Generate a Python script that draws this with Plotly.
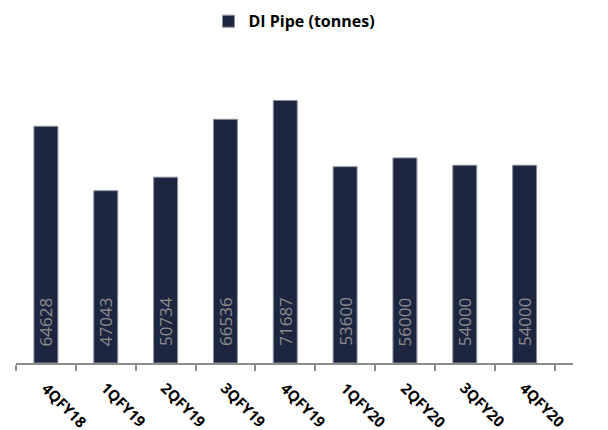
import plotly.graph_objects as go

# Quarterly DI pipe volumes
quarters = ["4QFY18", "1QFY19", "2QFY19", "3QFY19", "4QFY19",
            "1QFY20", "2QFY20", "3QFY20", "4QFY20"]
tonnes = [64628, 47043, 50734, 66536, 71687, 53600, 56000, 54000, 54000]

series_name = "DI Pipe (tonnes)"
bar_color = "#1C2640"
label_color = "#8C8C8C"

fig = go.Figure()
fig.add_trace(go.Bar(
    x=quarters,
    y=tonnes,
    name=series_name,
    width=0.4,
    marker=dict(color=bar_color, line=dict(color="#8A909C", width=1)),
    showlegend=True,
))

# Value labels written vertically near the base of each bar
for q, v in zip(quarters, tonnes):
    fig.add_annotation(
        x=q, y=0, text=str(v), textangle=-90,
        xanchor="center", yanchor="bottom", yshift=15,
        showarrow=False,
        font=dict(family="Open Sans", size=17, color=label_color),
    )

# Category names slanted downward, starting at each category centre
for q in quarters:
    fig.add_annotation(
        x=q, y=0, text=q, textangle=45,
        xanchor="left", yanchor="top", xshift=-11, yshift=-12,
        showarrow=False,
        font=dict(family="Open Sans", size=15, color="#000000", weight="bold"),
    )

fig.update_layout(
    width=608, height=430,
    margin=dict(l=16, r=35, t=70, b=67),
    paper_bgcolor="white", plot_bgcolor="white",
    bargap=0.6,
    legend=dict(
        orientation="h", x=0.5, xanchor="center",
        yref="container", y=0.99, yanchor="top",
        font=dict(family="Open Sans", size=16, color="#000000", weight="bold"),
        itemwidth=30,
    ),
    xaxis=dict(
        type="category",
        showline=True, linecolor="#8C8C8C", linewidth=1.5,
        ticks="outside", tickson="boundaries", ticklen=6,
        tickcolor="#8C8C8C", tickwidth=1.5,
        showticklabels=False,
        showgrid=False,
    ),
    yaxis=dict(
        range=[0, 80000], visible=False, showgrid=False,
    ),
)

fig.write_html("out.html")
